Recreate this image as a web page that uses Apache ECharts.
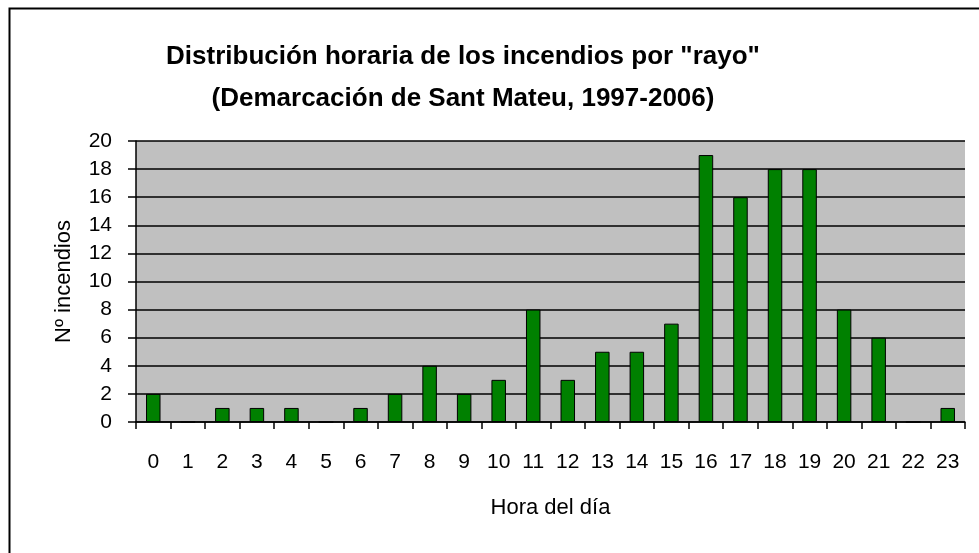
<!DOCTYPE html>
<html><head><meta charset="utf-8">
<script src="https://cdn.jsdelivr.net/npm/echarts@6/dist/echarts.min.js"></script>
<style>html,body{margin:0;padding:0;background:#fff}#c{width:979px;height:553px}</style>
</head><body><div id="c"></div>
<script>
const titleLines = ['Distribución horaria de los incendios por "rayo"', '(Demarcación de Sant Mateu, 1997-2006)'];
const hours = ['0','1','2','3','4','5','6','7','8','9','10','11','12','13','14','15','16','17','18','19','20','21','22','23'];
const fires = [2,0,1,1,1,0,1,2,4,2,3,8,3,5,5,7,19,16,18,18,8,6,0,1];
const yTicks = {min:0, max:20, interval:2};
const xName = 'Hora del día';
const yName = 'Nº incendios';

const chart = echarts.init(document.getElementById('c'), null, {renderer:'canvas'});
const font = '"Liberation Sans", Arial, sans-serif';
chart.setOption({
  animation:false,
  backgroundColor:'#ffffff',
  title:{
    text: titleLines.join('\n'),
    left: 458, top: 31, textAlign:'center',
    textStyle:{fontFamily:font, fontSize:26, fontWeight:'bold', color:'#000', lineHeight:42}
  },
  graphic:[{type:'rect', shape:{x:9.5,y:8.5,width:1000,height:1000}, style:{fill:'none', stroke:'#000', lineWidth:2}, z:-1}],
  grid:{left:136, top:141, right:14, bottom:131, show:true, backgroundColor:'#c0c0c0', borderWidth:0},
  xAxis:{
    type:'category', data:hours,
    axisLine:{lineStyle:{color:'#000', width:1.5}},
    axisTick:{show:true, alignWithLabel:false, length:7, lineStyle:{color:'#000', width:1.5}},
    axisLabel:{fontFamily:font, fontSize:21, color:'#000', margin:30},
    name:xName, nameLocation:'middle', nameGap:75,
    nameTextStyle:{fontFamily:font, fontSize:22, color:'#000'}
  },
  yAxis:{
    type:'value', min:yTicks.min, max:yTicks.max, interval:yTicks.interval,
    axisLine:{show:true, lineStyle:{color:'#000', width:1.5}},
    axisTick:{show:true, length:8, lineStyle:{color:'#000', width:1.5}},
    axisLabel:{fontFamily:font, fontSize:21, color:'#000', margin:24},
    splitLine:{show:true, lineStyle:{color:'#000', width:1.5}},
    name:yName, nameLocation:'middle', nameGap:61, nameRotate:90,
    nameTextStyle:{fontFamily:font, fontSize:22, color:'#000'}
  },
  series:[{
    type:'bar', data:fires, barWidth:'42%',
    itemStyle:{color:'#008000', borderColor:'#000', borderWidth:1}
  }]
});
</script></body></html>
